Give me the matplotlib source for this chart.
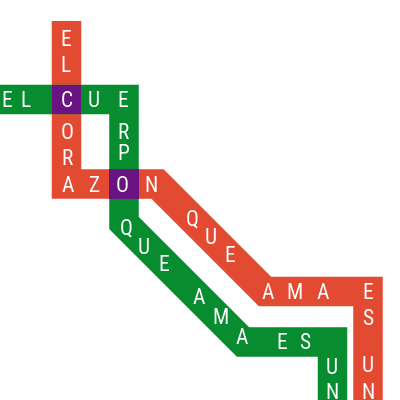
import matplotlib.pyplot as plt
from matplotlib.patches import Rectangle

# route waypoints in pixels, y measured downwards
red_route_x = [66.5, 66.5, 157.5, 265, 368, 368]
red_route_y = [21, 184, 184, 291.5, 291.5, 410]
green_route_x = [-10, 124, 124, 243, 332.5, 332.5]
green_route_y = [99.5, 99.5, 223, 342, 342, 410]

# "EL CORAZON QUE AMA ES UN" (C and O are shared with the green route)
red_letters = list("ELCORAZONQUEAMAESUN")
red_letter_x = [66, 66, 67, 67, 67, 68, 94, 122, 151, 192, 211, 230,
                268, 295, 323, 368, 368, 368, 368]
red_letter_y = [39, 64.5, 100, 132, 158, 185, 185, 185, 185, 218, 237, 255,
                292, 292, 292, 292, 318, 365, 392]

# "EL CUERPO QUE AMA ES UN" without the shared C and O
green_letters = list("ELUERPQUEAMAESUN")
green_letter_x = [7, 26, 94, 123, 123, 123, 126, 144, 164, 199, 220, 242,
                  282, 305, 332, 332]
green_letter_y = [100, 100, 100, 100, 132, 153, 227, 247, 264, 297, 317, 337,
                  342, 342, 367, 392]

RED = '#E24A32'
GREEN = '#078C2F'
PURPLE = '#6A1382'
BAND = 29.5  # px

fig = plt.figure(figsize=(4, 4), dpi=100)
ax = fig.add_axes([0, 0, 1, 1])
ax.set_xlim(0, 400)
ax.set_ylim(400, 0)
ax.axis('off')

lw = BAND * 72 / fig.dpi
ax.plot(red_route_x, red_route_y, color=RED, lw=lw,
        solid_joinstyle='miter', solid_capstyle='butt', zorder=1)
ax.plot(green_route_x, green_route_y, color=GREEN, lw=lw,
        solid_joinstyle='miter', solid_capstyle='butt', zorder=1)

# where the routes cross
crossings = [(red_route_x[0], green_route_y[0]),
             (green_route_x[1], red_route_y[1])]
for cx, cy in crossings:
    ax.add_patch(Rectangle((cx - BAND / 2, cy - BAND / 2), BAND, BAND,
                           color=PURPLE, lw=0, zorder=2))

cap = 14.5  # cap height in px
font = dict(family=['Roboto Condensed', 'Open Sans Condensed', 'PT Sans Narrow',
                    'DejaVu Sans'],
            fontsize=15.5, color='white',
            ha='center', va='baseline', zorder=3)
for ch, x, y in zip(red_letters, red_letter_x, red_letter_y):
    ax.text(x, y + cap / 2, ch, **font)
for ch, x, y in zip(green_letters, green_letter_x, green_letter_y):
    ax.text(x, y + cap / 2, ch, **font)

fig.savefig('out.png', dpi=100)
